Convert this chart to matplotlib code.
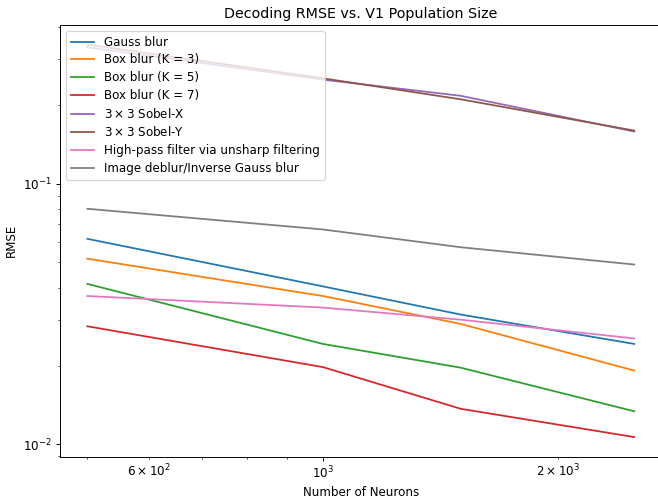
import matplotlib
matplotlib.use('Agg')
import matplotlib.pyplot as plt

# 数据
neurons = [500, 1000, 1500, 2500]
gauss_blur = [0.0615, 0.0404, 0.0315, 0.0243]
box_k3 = [0.0516, 0.0371, 0.0290, 0.0192]
box_k5 = [0.0413, 0.0243, 0.0197, 0.0134]
box_k7 = [0.0284, 0.0198, 0.0137, 0.01067]
sobel_x = [0.334, 0.251, 0.2176, 0.1587]
sobel_y = [0.342, 0.254, 0.211, 0.160]
high_pass = [0.0371, 0.0335, 0.0301, 0.0255]
deblur = [0.0802, 0.0668, 0.0571, 0.0490]

series = [
    ('Gauss blur', gauss_blur),
    ('Box blur (K = 3)', box_k3),
    ('Box blur (K = 5)', box_k5),
    ('Box blur (K = 7)', box_k7),
    (r'$3 \times 3$ Sobel-X', sobel_x),
    (r'$3 \times 3$ Sobel-Y', sobel_y),
    ('High-pass filter via unsharp filtering', high_pass),
    ('Image deblur/Inverse Gauss blur', deblur),
]

DPI = 85.5  # 原图是缩小过的，字体和线条都小一点
fig = plt.figure(figsize=(658 / DPI, 504 / DPI), dpi=DPI)
# 右边框被裁掉了，所以坐标轴稍微超出画布
ax = fig.add_axes([60 / 658, (504 - 456.7) / 504, (661.6 - 60) / 658, (456.7 - 25) / 504])
for label, vals in series:
    ax.plot(neurons, vals, label=label)
ax.set_xscale('log')
ax.set_yscale('log')
ax.set_xlabel('Number of Neurons')
ax.set_ylabel('RMSE')
ax.set_title('Decoding RMSE vs. V1 Population Size')
ax.legend(loc='upper left', labelspacing=0.4)
fig.savefig('out.png', dpi=DPI)
